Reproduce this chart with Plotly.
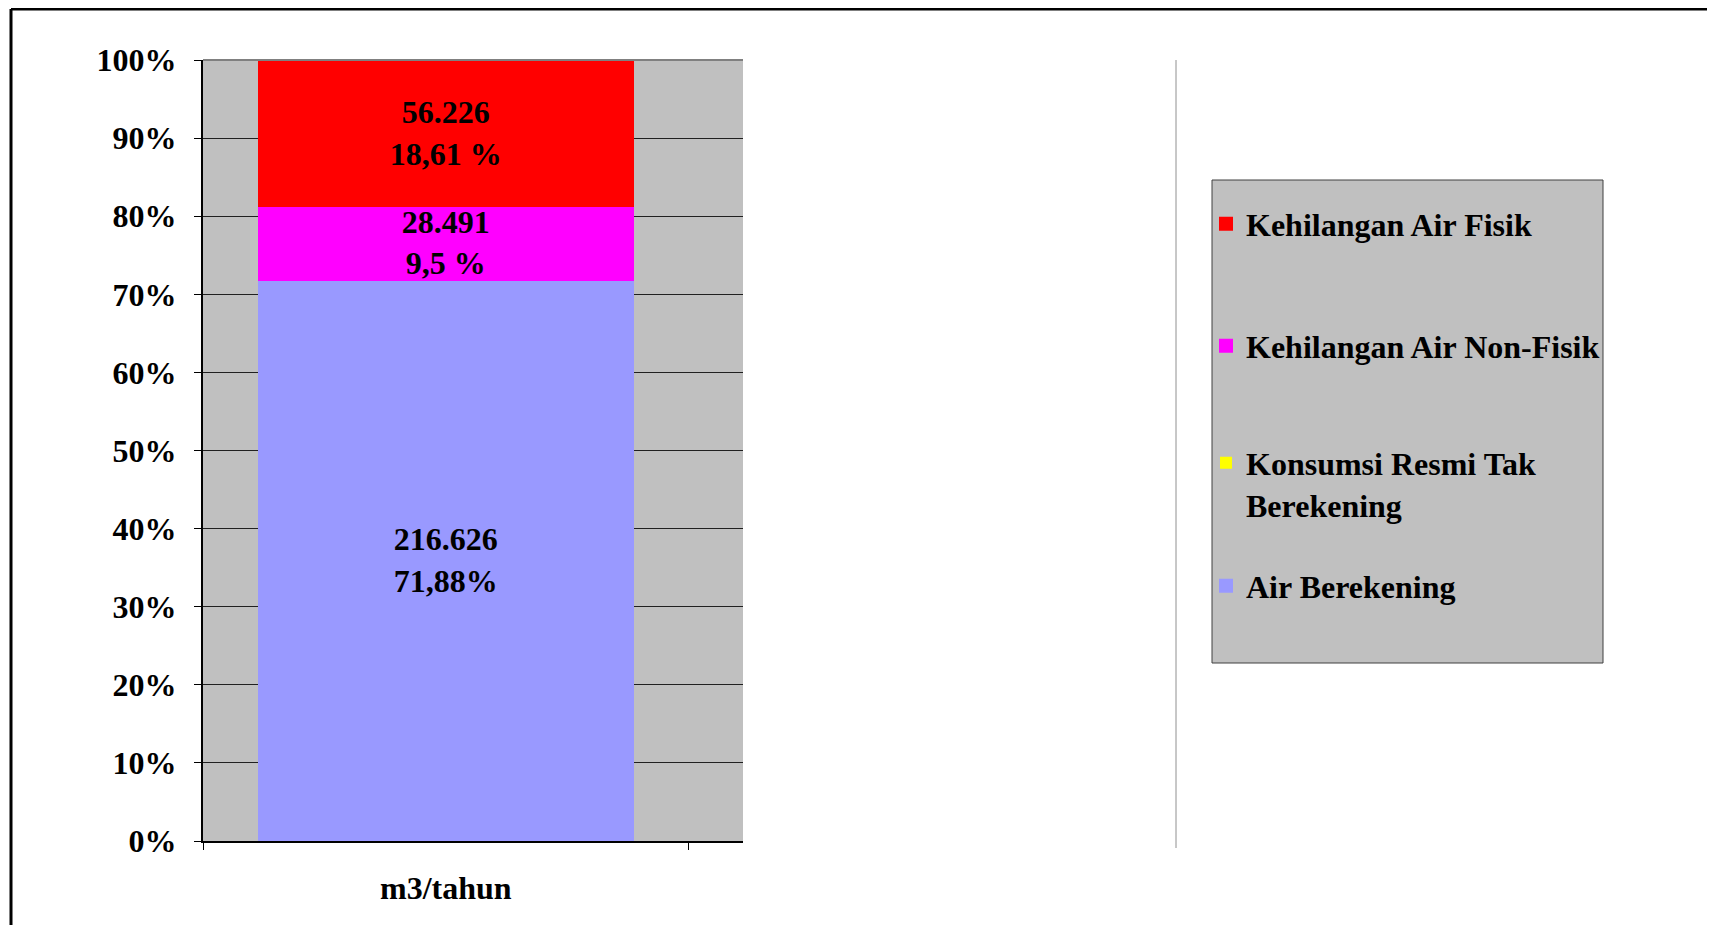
import plotly.graph_objects as go

# Data
categories = ["m3/tahun"]
series_names = [
    "Air Berekening",
    "Konsumsi Resmi Tak<br>Berekening",
    "Kehilangan Air Non-Fisik",
    "Kehilangan Air Fisik",
]
volumes = [216626, 0, 28491, 56226]
volume_labels = ["216.626", "", "28.491", "56.226"]
percent_labels = ["71,88%", "", "9,5 %", "18,61 %"]
colors = ["#9999ff", "#ffff00", "#ff00ff", "#ff0000"]
y_ticks = [0, 0.1, 0.2, 0.3, 0.4, 0.5, 0.6, 0.7, 0.8, 0.9, 1.0]

# page has an 8px body margin, so the figure is drawn from (8, 8)
OFF = 8
W, H = 1715 - 2 * OFF, 933 - 2 * OFF
L, R, T, B = 203 - OFF, 743 - OFF, 60 - OFF, 841 - OFF  # plot area


def px(X):
    # X in window pixels -> paper x
    return (X - OFF - L) / (R - L)


def py(Y):
    return (B - (Y - OFF)) / (B - T)


serif = "Liberation Serif, Times New Roman, serif"
font = dict(family=serif, size=32, color="black", weight="bold")

legend_ids = ["legend4", "legend3", "legend2", "legend"]
legend_pos = {"legend": 224, "legend2": 346, "legend3": 484, "legend4": 586}

fig = go.Figure()
for i, name in enumerate(series_names):
    txt = volume_labels[i] + "<br>" + percent_labels[i] if volume_labels[i] else ""
    lw = 2 if volumes[i] else 0
    fig.add_trace(go.Bar(
        x=[0], y=[volumes[i]], name=name,
        marker=dict(color=colors[i], line=dict(width=lw, color=colors[i])),
        width=0.77,
        text=[txt], textposition="inside" if txt else "none",
        insidetextanchor="middle", constraintext="none",
        textfont=font, legend=legend_ids[i],
    ))

layout_legends = {}
for lid, yc in legend_pos.items():
    layout_legends[lid] = dict(
        x=px(1206), y=py(yc), xanchor="left", yanchor="middle",
        bgcolor="rgba(0,0,0,0)", borderwidth=0, font=font,
        valign="top",
    )

fig.update_layout(
    width=W, height=H,
    margin=dict(l=L, r=W - R, t=T, b=H - B),
    paper_bgcolor="white", plot_bgcolor="#c0c0c0",
    barmode="stack", barnorm="fraction",
    uniformtext=dict(minsize=32, mode="show"),
    font=font, showlegend=True,
    **layout_legends,
)

fig.update_xaxes(
    range=[-0.5, -0.5 + 540 / 485.6],
    tickvals=[0], ticktext=categories, ticks="",
    ticklabelstandoff=18,
    minor=dict(tickvals=[-0.5, 0.5], ticks="outside", ticklen=7,
               tickcolor="black", tickwidth=1, showgrid=False),
    showline=True, linecolor="black", linewidth=2,
    showgrid=False, zeroline=False, tickfont=font,
)
fig.update_yaxes(
    range=[0, 1], tickvals=y_ticks, tickformat=".0%",
    ticks="outside", ticklen=7, tickcolor="black", tickwidth=1,
    ticklabelstandoff=11,
    showline=True, linecolor="black", linewidth=2,
    showgrid=True, gridcolor="#202020", gridwidth=1,
    zeroline=False, tickfont=font,
)

shapes = [
    # top edge of plot area
    dict(type="line", xref="paper", yref="paper", x0=0, x1=1, y0=1, y1=1,
         line=dict(color="#808080", width=2)),
    # divider line
    dict(type="line", xref="paper", yref="paper", x0=px(1176), x1=px(1176),
         y0=py(848), y1=1, line=dict(color="#909090", width=1)),
    # legend box
    dict(type="rect", xref="paper", yref="paper", x0=px(1212), x1=px(1603),
         y0=py(663), y1=py(180), fillcolor="#c0c0c0",
         line=dict(color="#404040", width=1), layer="below"),
    # outer frame
    dict(type="line", xref="paper", yref="paper", x0=px(11), x1=px(1715),
         y0=py(9), y1=py(9), line=dict(color="black", width=3)),
    dict(type="line", xref="paper", yref="paper", x0=px(11), x1=px(11),
         y0=py(9), y1=py(933), line=dict(color="black", width=3)),
]
fig.update_layout(shapes=shapes)

fig.write_html("out.html")
